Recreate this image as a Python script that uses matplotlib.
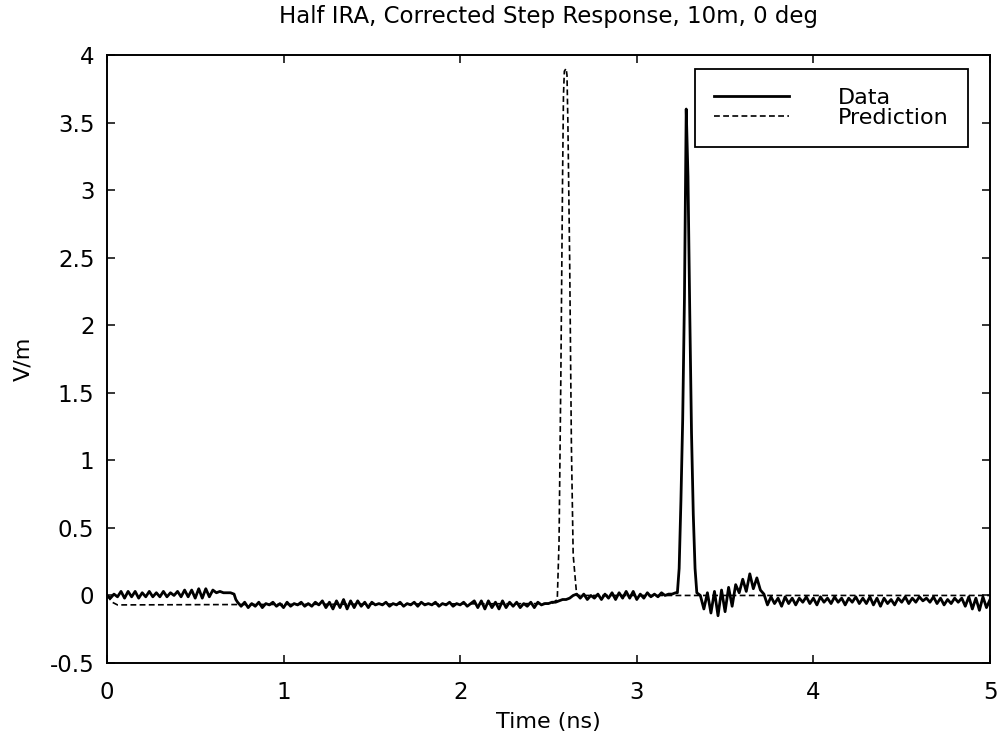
import matplotlib
matplotlib.use("Agg")
import matplotlib.pyplot as plt
import numpy as np

plt.rcParams["font.family"] = ["DejaVu Sans"]

# Measured field, sampled every 0.02 ns in noisy stretches
data_seg1_t0 = 0.00
data_seg1_v = [0.00, -0.02, 0.01, -0.01, 0.03, -0.02, 0.03, -0.01, 0.03, -0.02,
               0.02, -0.01, 0.03, -0.01, 0.02, -0.01, 0.03, -0.01, 0.02, 0.00,
               0.03, -0.01, 0.04, -0.01, 0.04, -0.02, 0.05, -0.02, 0.05, -0.01,
               0.04, 0.02, 0.03, 0.02, 0.02, 0.02, 0.01]

data_seg2_t0 = 0.74
data_seg2_v = [-0.05, -0.08, -0.05, -0.09, -0.06, -0.08, -0.05, -0.09, -0.06, -0.07,
               -0.05, -0.08, -0.06, -0.09, -0.05, -0.08, -0.06, -0.07, -0.05, -0.08,
               -0.06, -0.08, -0.05, -0.07,
               -0.04, -0.09, -0.05, -0.10, -0.04, -0.09, -0.03, -0.10, -0.04, -0.09,
               -0.04, -0.08, -0.05, -0.09, -0.05, -0.07, -0.06, -0.07,
               -0.05, -0.08, -0.06, -0.07, -0.05, -0.08, -0.06, -0.07, -0.05, -0.08,
               -0.05, -0.07, -0.06, -0.07, -0.05, -0.08, -0.06, -0.07, -0.05, -0.08,
               -0.06, -0.07, -0.05, -0.08, -0.06,
               -0.04, -0.09, -0.04, -0.10, -0.04, -0.09, -0.05, -0.10, -0.04, -0.09,
               -0.05, -0.08, -0.05, -0.09, -0.06, -0.08, -0.05, -0.09, -0.05, -0.07,
               -0.06, -0.06, -0.05,
               -0.05, -0.04, -0.03, -0.03, -0.02, 0.00]

data_seg3_t0 = data_seg2_t0 + 0.02 * len(data_seg2_v)
data_seg3_v = [0.01, -0.02, 0.01, -0.03, 0.00, -0.02, 0.01, -0.03, 0.01, -0.02,
               0.02, -0.03, 0.02, -0.02, 0.03, -0.02, 0.03, -0.03, 0.01, -0.02,
               0.02, -0.01, 0.01, -0.01, 0.02, 0.00, 0.01, 0.01, 0.02]

# main pulse of the measurement
peak_t = [3.23, 3.24, 3.25, 3.26, 3.27, 3.28, 3.29, 3.30, 3.31, 3.32, 3.33, 3.34]
peak_v = [0.02, 0.20, 0.70, 1.30, 2.20, 3.60, 3.10, 2.10, 1.20, 0.60, 0.20, 0.02]

data_seg4_t0 = 3.36
data_seg4_v = [0.00, -0.10, 0.02, -0.13, 0.03, -0.15, 0.04, -0.12, 0.06, -0.08, 0.08,
               0.02, 0.12, 0.03, 0.16, 0.05, 0.13, 0.04,
               0.01, -0.07, -0.01, -0.06, -0.02, -0.08, -0.01, -0.06, -0.02, -0.07,
               -0.02, -0.05, -0.01, -0.06, -0.02, -0.07, -0.01, -0.05, -0.02, -0.06,
               -0.01, -0.05, -0.02, -0.07, -0.02, -0.05, -0.01, -0.06, -0.02, -0.06,
               -0.01, -0.07, -0.02, -0.08, -0.02, -0.06, -0.03, -0.07, -0.02, -0.05,
               -0.01, -0.06, -0.02, -0.05, -0.01, -0.04, -0.02, -0.05, -0.01, -0.06,
               -0.02, -0.07, -0.03, -0.06, -0.02, -0.05, -0.02, -0.08, -0.01, -0.10,
               -0.02, -0.11, -0.01, -0.09, -0.03]

# Predicted field
pred_t = [0.00, 0.03, 0.06, 2.52, 2.55, 2.56, 2.57, 2.58, 2.585, 2.59, 2.60,
          2.605, 2.61, 2.62, 2.63, 2.64, 2.66, 5.00]
pred_v = [0.00, -0.05, -0.07, -0.06, -0.03, 0.40, 1.60, 3.10, 3.70, 3.88, 3.90,
          3.85, 3.50, 2.50, 1.10, 0.30, 0.00, 0.00]

yticks = [-0.5, 0, 0.5, 1, 1.5, 2, 2.5, 3, 3.5, 4]
ytick_labels = ["-0.5", "0", "0.5", "1", "1.5", "2", "2.5", "3", "3.5", "4"]
xticks = [0, 1, 2, 3, 4, 5]


def seg(t0, vals):
    return t0 + 0.02 * np.arange(len(vals)), np.asarray(vals)


t1, v1 = seg(data_seg1_t0, data_seg1_v)
t2, v2 = seg(data_seg2_t0, data_seg2_v)
t3, v3 = seg(data_seg3_t0, data_seg3_v)
t4, v4 = seg(data_seg4_t0, data_seg4_v)
data_t = np.concatenate([t1, [0.73], t2, t3, peak_t, t4])
data_v = np.concatenate([v1, [-0.03], v2, v3, peak_v, v4])

fig = plt.figure(figsize=(9.99, 7.38), dpi=100)
ax = fig.add_axes([0.107, 0.1016, 0.884, 0.8239])

ax.plot(data_t, data_v, color="black", lw=2.0, label="Data")
ax.plot(pred_t, pred_v, color="black", lw=1.2, ls=(0, (3.5, 2)), label="Prediction")

ax.set_xlim(0, 5)
ax.set_ylim(-0.5, 4)
ax.set_xticks(xticks)
ax.set_xticklabels([str(x) for x in xticks])
ax.set_yticks(yticks)
ax.set_yticklabels(ytick_labels)
ax.tick_params(direction="in", top=True, right=True, length=6, width=1.1,
               labelsize=16.5)
ax.tick_params(axis="x", pad=13)
ax.tick_params(axis="y", pad=9)
for s in ax.spines.values():
    s.set_linewidth(1.4)

ax.set_title("Half IRA, Corrected Step Response, 10m, 0 deg", fontsize=16.5, pad=23)
ax.set_xlabel("Time (ns)", fontsize=16, labelpad=6)
ax.set_ylabel("V/m", fontsize=16, labelpad=12)

leg = ax.legend(loc="upper right", bbox_to_anchor=(0.975, 0.977), fontsize=16,
                fancybox=False, edgecolor="black", framealpha=1,
                handlelength=3.4, handletextpad=2.2, borderpad=0.85,
                labelspacing=0.0, borderaxespad=0)
leg.get_frame().set_linewidth(1.3)

fig.savefig("out.png", dpi=100)
